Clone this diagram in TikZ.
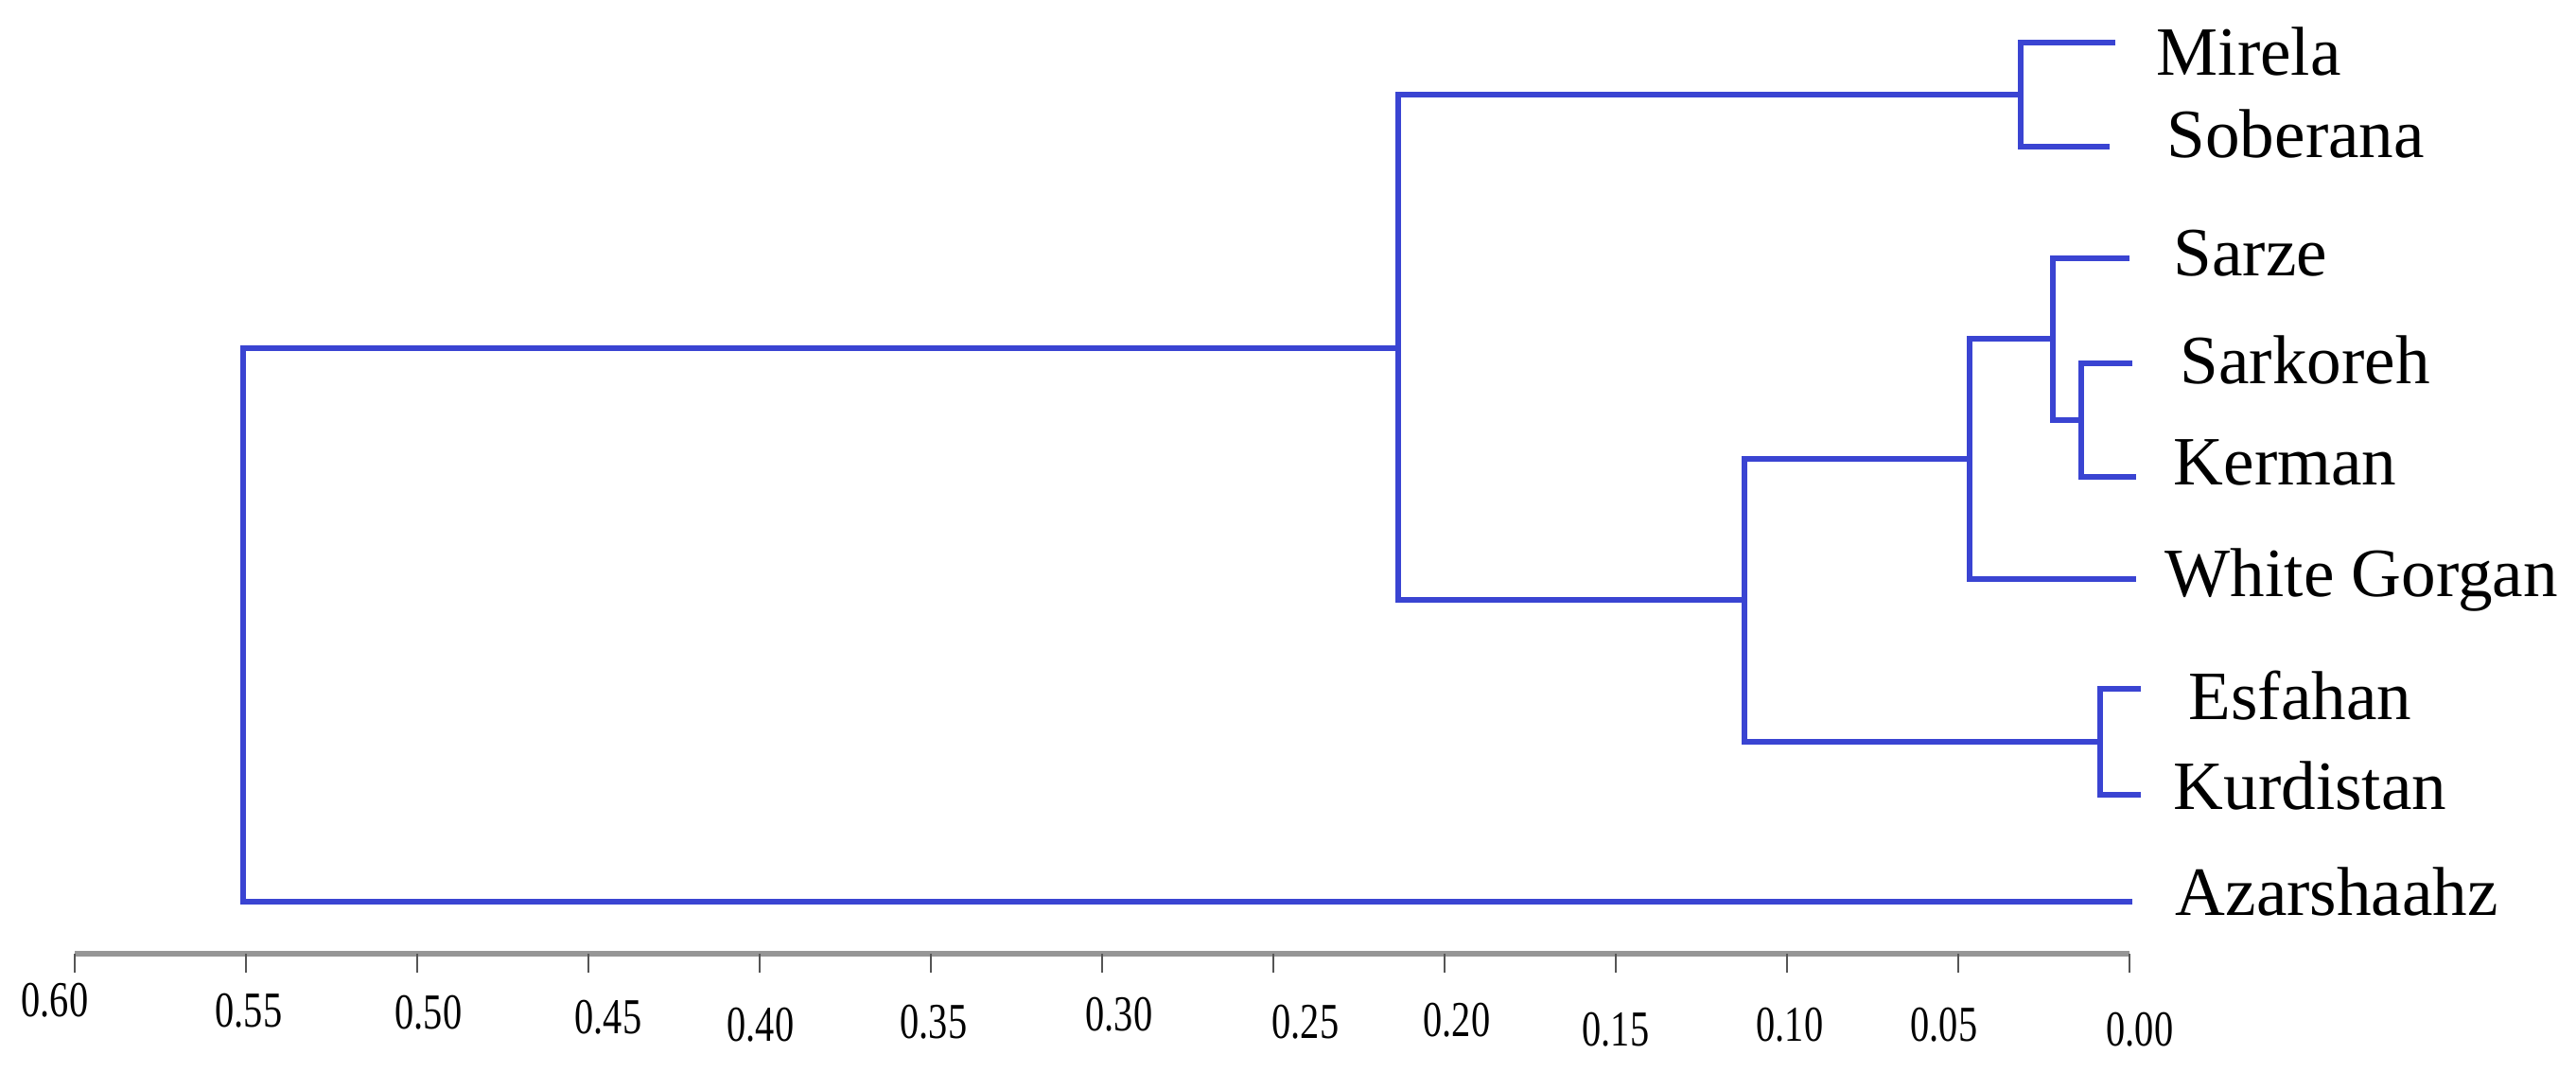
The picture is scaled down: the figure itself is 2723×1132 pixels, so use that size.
\documentclass[tikz,border=0pt]{standalone}
\usepackage{fontspec}
\usetikzlibrary{calc}
\setmainfont{Liberation Serif}
\definecolor{dendro}{RGB}{58,68,210}
\definecolor{axisgray}{RGB}{150,150,150}
\definecolor{tickgray}{RGB}{85,85,85}
\newcommand{\ticktxt}[1]{\scalebox{0.85}[1.12]{#1}}
\begin{document}
\begin{tikzpicture}[x=0.01cm,y=-0.01cm,
  br/.style={draw=dendro,line width=1.85pt,line join=miter},
  leaf/.style={anchor=base west,inner sep=0pt,font=\fontsize{20.8}{25}\selectfont},
  ticklab/.style={anchor=center,inner sep=0pt,font=\fontsize{13.5}{15}\selectfont},
  axisline/.style={draw=axisgray,line width=1.9pt},
  tickline/.style={draw=tickgray,line width=0.7pt}]
\useasboundingbox (0,0) rectangle (2723,1132);
% leaf labels
\node[leaf] (Lmir) at (2279,79) {Mirela};
\node[leaf] (Lsob) at (2290,166) {Soberana};
\node[leaf] (Lsar) at (2297,291) {Sarze};
\node[leaf] (Lsk) at (2304,405) {Sarkoreh};
\node[leaf] (Lker) at (2297,512) {Kerman};
\node[leaf] (Lwg) at (2288,630) {White Gorgan};
\node[leaf] (Lesf) at (2313,760) {Esfahan};
\node[leaf] (Lkur) at (2297,855) {Kurdistan};
\node[leaf] (Laz) at (2299,967) {Azarshaahz};
% leaf ends
\coordinate (eMir) at (2236,45);
\coordinate (eSob) at (2230,155);
\coordinate (eSar) at (2251,273);
\coordinate (eSk) at (2254,384);
\coordinate (eKer) at (2258,504);
\coordinate (eWG) at (2258,612);
\coordinate (eEsf) at (2263,728);
\coordinate (eKur) at (2263,840);
\coordinate (eAz) at (2254,953);
% junctions
\coordinate (jMS) at (2136,100);
\coordinate (jSK) at (2200,444);
\coordinate (jS) at (2170,358);
\coordinate (jWG) at (2082,485);
\coordinate (jEK) at (2220,784);
\coordinate (jWE) at (1844,634);
\coordinate (jBig) at (1478,368);
\coordinate (root) at (257,660);
% branches
\draw[br] (eMir) -| (jMS) |- (eSob);
\draw[br] (eSk) -| (jSK) |- (eKer);
\draw[br] (eSar) -| (jS) |- (jSK);
\draw[br] (jS) -| (jWG) |- (eWG);
\draw[br] (eEsf) -| (jEK) |- (eKur);
\draw[br] (jWG) -| (jWE) |- (jEK);
\draw[br] (jMS) -| (jBig) |- (jWE);
\draw[br] (jBig) -| (root) |- (eAz);
% axis
\coordinate (ax0) at (79,1008);
\coordinate (ax12) at (2251,1008);
\draw[axisline] (ax0) -- (ax12);
\foreach \i in {0,...,12}{
  \draw[tickline] ($(ax0)!\i/12!(ax12)$) -- ++(0,20);
}
\node[ticklab] (t60) at (58,1057) {\ticktxt{0.60}};
\node[ticklab] (t55) at (263,1068) {\ticktxt{0.55}};
\node[ticklab] (t50) at (453,1070) {\ticktxt{0.50}};
\node[ticklab] (t45) at (643,1075) {\ticktxt{0.45}};
\node[ticklab] (t40) at (804,1083) {\ticktxt{0.40}};
\node[ticklab] (t35) at (987,1080) {\ticktxt{0.35}};
\node[ticklab] (t30) at (1183,1072) {\ticktxt{0.30}};
\node[ticklab] (t25) at (1380,1080) {\ticktxt{0.25}};
\node[ticklab] (t20) at (1540,1078) {\ticktxt{0.20}};
\node[ticklab] (t15) at (1708,1088) {\ticktxt{0.15}};
\node[ticklab] (t10) at (1892,1083) {\ticktxt{0.10}};
\node[ticklab] (t05) at (2055,1083) {\ticktxt{0.05}};
\node[ticklab] (t00) at (2262,1088) {\ticktxt{0.00}};
\end{tikzpicture}
\end{document}
